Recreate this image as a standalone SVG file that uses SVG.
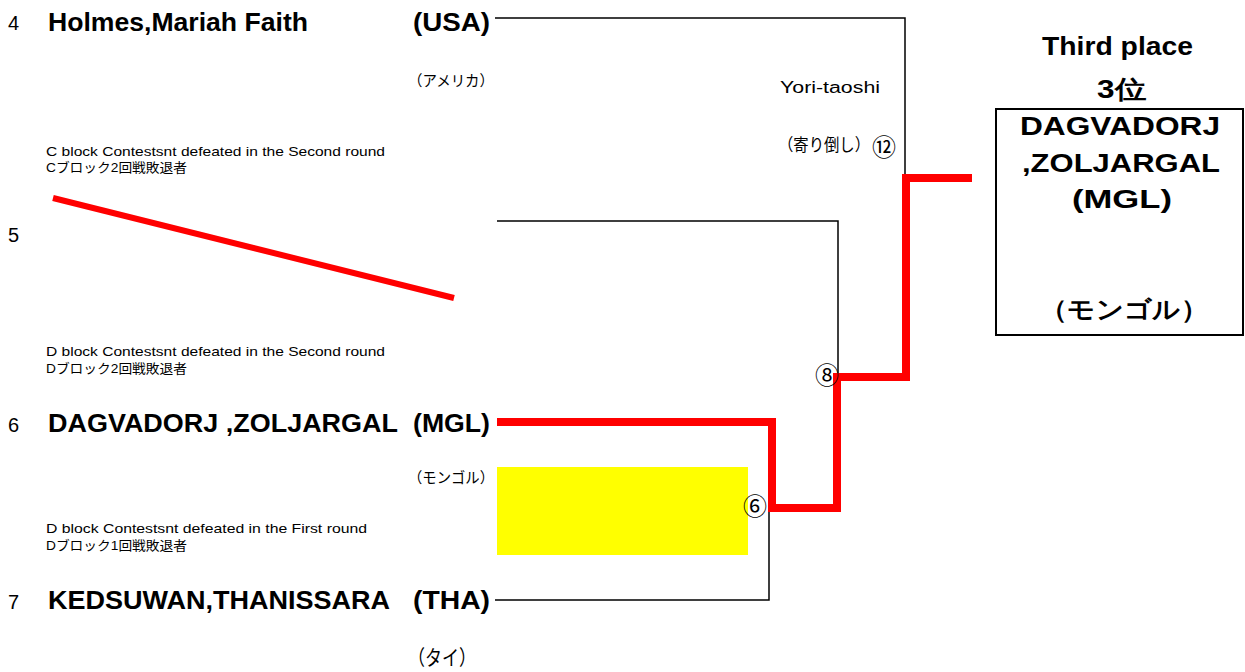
<svg xmlns="http://www.w3.org/2000/svg" width="1245" height="672" viewBox="0 0 1245 672">
<style>
.num{font-family:"Liberation Sans",Arial,sans-serif;font-size:20px;fill:#000}
.name{font-family:"Liberation Sans",Arial,sans-serif;font-weight:bold;font-size:25px;fill:#000}
.jp{font-family:"Liberation Sans","Noto Sans CJK JP",sans-serif;fill:#000}
.circ{font-family:"Noto Sans CJK JP",sans-serif;font-size:24px;fill:#000;text-anchor:middle}
.small{font-family:"Liberation Sans","Noto Sans CJK JP",sans-serif;font-size:13px;fill:#000}
.blk{fill:none;stroke:#000;stroke-width:1.5}
.red{fill:none;stroke:#ff0000;stroke-width:8}
</style>
<rect width="1245" height="672" fill="#fff"/>
<g id="yellow"><rect x="497" y="467" width="251" height="88" fill="#ffff00"/></g>
<g id="connectors">
<path class="blk" d="M495,18 H905 V175"/>
<path class="blk" d="M497,221 H838 V378 H906"/>
<path class="blk" d="M495,600 H769 V511 H836"/>
<path class="red" d="M497,422 H772 V508 H837 V377 H906 V178 H972"/>
<line x1="53" y1="198" x2="454" y2="298" stroke="#ff0000" stroke-width="6"/>
</g>
<g id="p4">
<text class="num" x="8" y="30">4</text>
<text class="name" x="48" y="31" textLength="260" lengthAdjust="spacingAndGlyphs">Holmes,Mariah Faith</text>
<text class="name" x="413" y="31" textLength="77" lengthAdjust="spacingAndGlyphs">(USA)</text>
<text class="jp" x="408" y="86" font-size="15" textLength="86" lengthAdjust="spacingAndGlyphs">（アメリカ）</text>
</g>
<g id="cblock">
<text class="small" x="46" y="156" textLength="339" lengthAdjust="spacingAndGlyphs">C block Contestsnt defeated in the Second round</text>
<text class="small" x="46" y="172" textLength="141" lengthAdjust="spacingAndGlyphs">Cブロック2回戦敗退者</text>
</g>
<g id="p5"><text class="num" x="8" y="242">5</text></g>
<g id="dblock2">
<text class="small" x="46" y="356" textLength="339" lengthAdjust="spacingAndGlyphs">D block Contestsnt defeated in the Second round</text>
<text class="small" x="46" y="373" textLength="141" lengthAdjust="spacingAndGlyphs">Dブロック2回戦敗退者</text>
</g>
<g id="p6">
<text class="num" x="8" y="432">6</text>
<text class="name" x="48" y="432" textLength="350" lengthAdjust="spacingAndGlyphs">DAGVADORJ ,ZOLJARGAL</text>
<text class="name" x="413" y="432" textLength="77" lengthAdjust="spacingAndGlyphs">(MGL)</text>
<text class="jp" x="408" y="483" font-size="15" textLength="86" lengthAdjust="spacingAndGlyphs">（モンゴル）</text>
</g>
<g id="dblock1">
<text class="small" x="46" y="533" textLength="321" lengthAdjust="spacingAndGlyphs">D block Contestsnt defeated in the First round</text>
<text class="small" x="46" y="550" textLength="141" lengthAdjust="spacingAndGlyphs">Dブロック1回戦敗退者</text>
</g>
<g id="p7">
<text class="num" x="8" y="609">7</text>
<text class="name" x="48" y="609" textLength="342" lengthAdjust="spacingAndGlyphs">KEDSUWAN,THANISSARA</text>
<text class="name" x="413" y="609" textLength="77" lengthAdjust="spacingAndGlyphs">(THA)</text>
<text class="jp" x="408" y="665" font-size="21" textLength="68" lengthAdjust="spacingAndGlyphs">（タイ）</text>
</g>
<g id="m12">
<text class="jp" x="780" y="93" font-size="16" textLength="100" lengthAdjust="spacingAndGlyphs">Yori-taoshi</text>
<text class="jp" x="778" y="151" font-size="17" textLength="92" lengthAdjust="spacingAndGlyphs">（寄り倒し）</text>
<text class="circ" x="884" y="156" font-size="21">⑫</text>
</g>
<g id="m8"><text class="circ" x="827" y="384">⑧</text></g>
<g id="m6"><text class="circ" x="755" y="515">⑥</text></g>
<g id="third">
<text class="name" x="1042" y="55" textLength="151" lengthAdjust="spacingAndGlyphs">Third  place</text>
<text class="name" x="1097" y="98" font-family="'Liberation Sans','Noto Sans CJK JP',sans-serif" textLength="49" lengthAdjust="spacingAndGlyphs">3位</text>
<rect x="996" y="109" width="247" height="226" fill="none" stroke="#000" stroke-width="2"/>
<text class="name" x="1020" y="135" textLength="200" lengthAdjust="spacingAndGlyphs">DAGVADORJ</text>
<text class="name" x="1022" y="172" textLength="198" lengthAdjust="spacingAndGlyphs">,ZOLJARGAL</text>
<text class="name" x="1072" y="208" textLength="100" lengthAdjust="spacingAndGlyphs">(MGL)</text>
<text class="name" x="1040" y="318" font-family="'Liberation Sans','Noto Sans CJK JP',sans-serif" textLength="168" lengthAdjust="spacingAndGlyphs">（モンゴル）</text>
</g>
</svg>
